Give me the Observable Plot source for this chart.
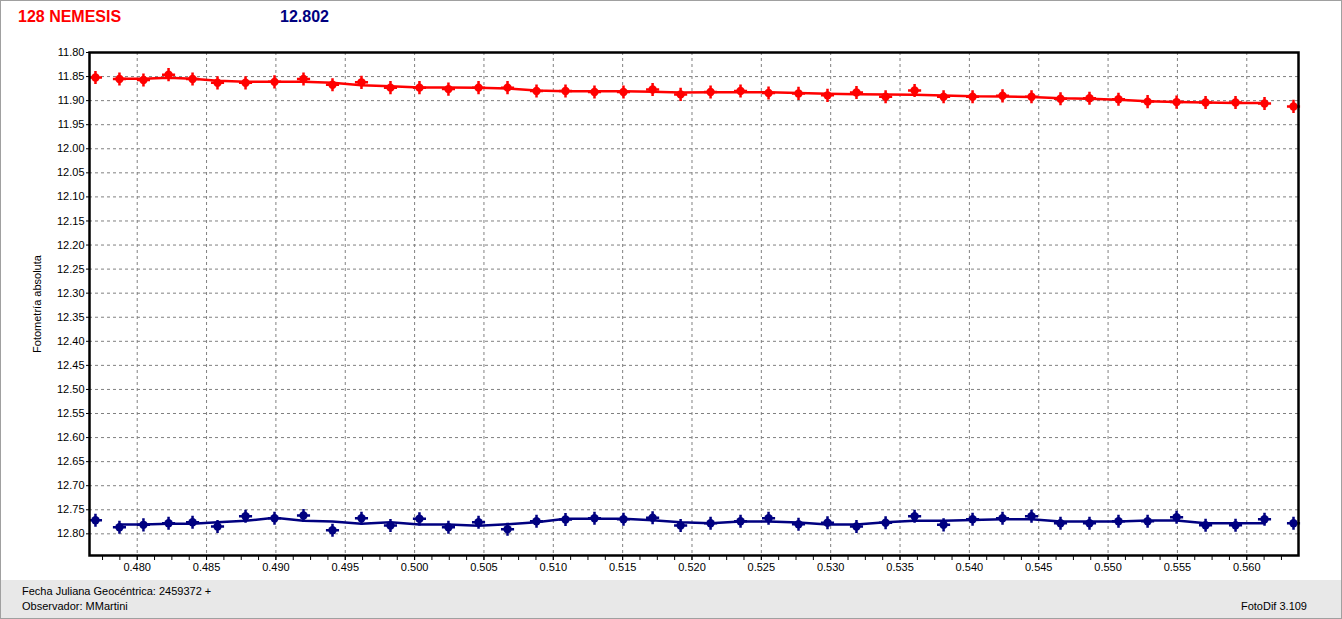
<!DOCTYPE html>
<html><head><meta charset="utf-8">
<script src="https://cdn.jsdelivr.net/npm/d3@7"></script>
<script src="https://cdn.jsdelivr.net/npm/@observablehq/plot@0.6"></script>
<style>
html,body{margin:0;padding:0;background:#fff;width:1342px;height:619px;overflow:hidden;}
.abs{position:absolute;white-space:nowrap;}
#border{position:absolute;left:0;top:0;width:1342px;height:619px;box-sizing:border-box;border:1px solid #a0a0a0;pointer-events:none;z-index:10;}
#t1{left:18px;top:8px;font:bold 16px "Liberation Sans",Arial,sans-serif;color:#ff0000;}
#t2{left:280px;top:8px;font:bold 16px "Liberation Sans",Arial,sans-serif;color:#000080;}
#chart{position:absolute;left:0;top:40px;}
#footer{position:absolute;left:0;top:580px;width:1342px;height:39px;background:#e8e8e8;}
.ft{font:11px "Liberation Sans",Arial,sans-serif;color:#000;line-height:13px;}
</style></head>
<body>
<div id="border"></div>
<div class="abs" id="t1">128 NEMESIS</div>
<div class="abs" id="t2">12.802</div>
<div id="chart"></div>
<div id="footer"></div>
<div class="abs ft" style="left:22px;top:585px;">Fecha Juliana Geocéntrica: 2459372 +</div>
<div class="abs ft" style="left:22px;top:600px;">Observador: MMartini</div>
<div class="abs ft" style="right:35px;top:600px;">FotoDif 3.109</div>
<script>
// Julian date fraction (+2459372)
const jd = [0.47699,0.47872,0.48045,0.48226,0.48399,0.48579,0.48781,0.48990,0.49199,0.49408,0.49617,
  0.49826,0.50035,0.50244,0.50461,0.50670,0.50879,0.51088,0.51297,0.51506,0.51716,0.51918,
  0.52134,0.52350,0.52552,0.52768,0.52977,0.53186,0.53396,0.53605,0.53814,0.54023,0.54239,
  0.54448,0.54657,0.54866,0.55075,0.55285,0.55494,0.55703,0.55919,0.56128,0.56337];
// 128 Nemesis magnitudes (red)
const nemesisMag = [11.852,11.855,11.857,11.846,11.855,11.863,11.863,11.861,11.855,11.867,11.862,
  11.873,11.873,11.876,11.873,11.873,11.880,11.880,11.882,11.882,11.877,11.887,
  11.882,11.880,11.884,11.885,11.889,11.883,11.892,11.879,11.892,11.892,11.890,
  11.892,11.896,11.895,11.897,11.902,11.903,11.904,11.904,11.906,11.912];
// Nemesis smoothed curve (jd[1] .. jd[41])
const nemesisTrend = [11.8547,11.8547,11.8526,11.8547,11.8589,11.8610,11.8610,11.8610,11.8630,11.8682,
  11.8703,11.8728,11.8728,11.8734,11.8749,11.8787,11.8803,11.8803,11.8803,11.8818,11.8832,
  11.8824,11.8824,11.8828,11.8839,11.8859,11.8866,11.8870,11.8880,11.8891,11.8911,11.8916,
  11.8922,11.8953,11.8963,11.8984,11.9011,11.9026,11.9040,11.9047,11.9047];
// comparison star magnitudes (navy)
const compMag = [12.7717,12.7863,12.7813,12.7779,12.7759,12.7848,12.7634,12.7675,12.7619,12.7925,12.7675,
  12.7827,12.7688,12.7863,12.7759,12.7904,12.7738,12.7702,12.7675,12.7696,12.7667,12.7827,
  12.7779,12.7738,12.7675,12.7800,12.7771,12.7848,12.7771,12.7634,12.7813,12.7696,12.7675,
  12.7634,12.7779,12.7779,12.7738,12.7738,12.7655,12.7821,12.7821,12.7696,12.7779];
// comparison smoothed curve (jd[1] .. jd[41])
const compTrend = [12.7807,12.7807,12.7792,12.7792,12.7759,12.7730,12.7667,12.7730,12.7744,12.7792,
  12.7759,12.7807,12.7807,12.7834,12.7800,12.7759,12.7688,12.7688,12.7688,12.7717,12.7759,
  12.7779,12.7744,12.7744,12.7765,12.7807,12.7807,12.7759,12.7730,12.7730,12.7713,12.7696,
  12.7696,12.7744,12.7744,12.7744,12.7723,12.7723,12.7779,12.7779,12.7779];

const yTicks = ["11.80","11.85","11.90","11.95","12.00","12.05","12.10","12.15","12.20","12.25","12.30",
  "12.35","12.40","12.45","12.50","12.55","12.60","12.65","12.70","12.75","12.80"];
const xTicks = ["0.480","0.485","0.490","0.495","0.500","0.505","0.510","0.515","0.520","0.525","0.530",
  "0.535","0.540","0.545","0.550","0.555","0.560"];
const xMinorTicks = d3.range(0, 69).map(i => +(0.4775 + i * 0.00125).toFixed(5)).filter(v => v < 0.5637);

const RED = "#ff0000", NAVY = "#000080";
const pts = (mags) => jd.map((x, i) => ({x, y: mags[i]}));
const trend = (vals) => vals.map((y, i) => ({x: jd[i + 1], y}));
const yT = yTicks.map(Number), xT = xTicks.map(Number);

const chart = Plot.plot({
  width: 1342, height: 540,
  marginLeft: 89, marginRight: 44, marginTop: 12, marginBottom: 25,
  style: {fontFamily: '"Liberation Sans", Arial, sans-serif', fontSize: "11px", color: "#000", background: "transparent"},
  x: {domain: [0.47656, 0.56373]},
  y: {domain: [11.80, 12.845], reverse: true},
  marks: [
    Plot.gridX(xT, {stroke: "#808080", strokeOpacity: 1, strokeDasharray: "3,3"}),
    Plot.gridY(yT, {stroke: "#808080", strokeOpacity: 1, strokeDasharray: "3,3"}),
    Plot.axisX(xMinorTicks, {tickSize: 5, tickFormat: () => "", label: null, stroke: "#000"}),
    Plot.axisX(xT, {tickSize: 5, tickPadding: 3, tickFormat: d => d.toFixed(3), label: null, fill: "#000"}),
    Plot.axisY(yT, {tickSize: 3, tickPadding: 2, tickFormat: d => d.toFixed(2), fill: "#000",
      label: "Fotometría absoluta", labelAnchor: "center", labelArrow: "none", labelOffset: 56}),
    Plot.line(trend(nemesisTrend), {x: "x", y: "y", stroke: RED, strokeWidth: 2.5}),
    Plot.line(trend(compTrend), {x: "x", y: "y", stroke: NAVY, strokeWidth: 2.5}),
    Plot.dot(pts(nemesisMag), {x: "x", y: "y", r: 4.2, fill: RED}),
    Plot.dot(pts(nemesisMag), {x: "x", y: "y", r: 4.3, symbol: "plus", stroke: RED, strokeWidth: 2.5}),
    Plot.dot(pts(compMag), {x: "x", y: "y", r: 4.2, fill: NAVY}),
    Plot.dot(pts(compMag), {x: "x", y: "y", r: 4.3, symbol: "plus", stroke: NAVY, strokeWidth: 2.5}),
    Plot.frame({stroke: "#000", strokeWidth: 2.5})
  ]
});
document.getElementById("chart").appendChild(chart);
</script>
</body></html>
